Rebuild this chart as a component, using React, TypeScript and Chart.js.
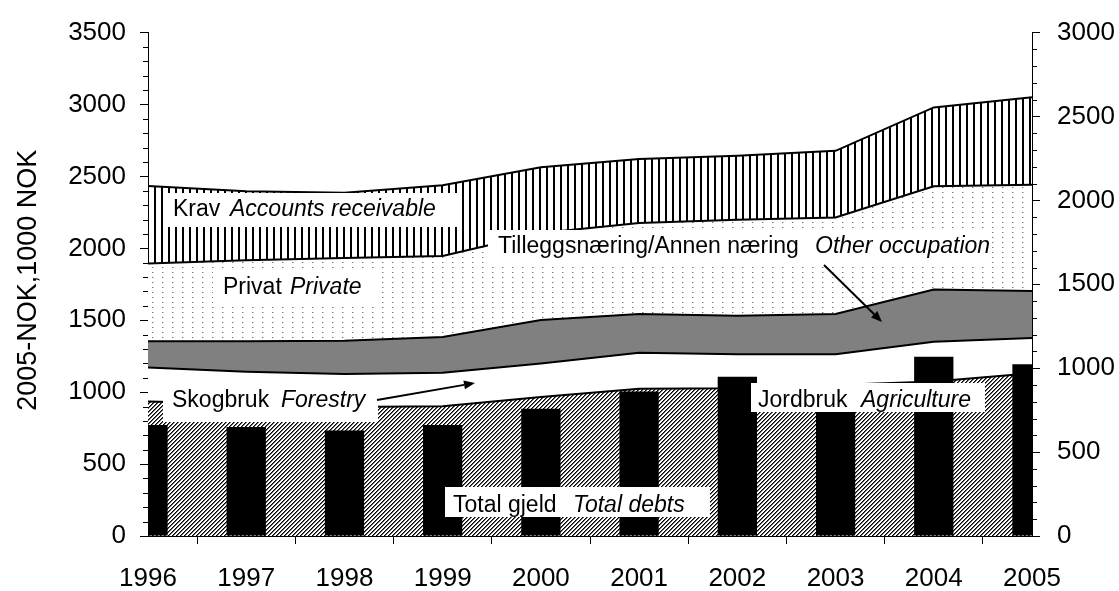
import React, { useEffect, useRef } from 'react';
import { Chart, registerables } from 'chart.js';

Chart.register(...registerables);

// ---- Data ----
const years = ['1996', '1997', '1998', '1999', '2000', '2001', '2002', '2003', '2004', '2005'];
// stacked area components (left axis, 2005-NOK, 1000 NOK)
const agriculture = [936, 920, 897, 902, 966, 1023, 1027, 1050, 1075, 1132];
const forestry = [235, 222, 229, 233, 234, 251, 236, 213, 275, 245];
const otherOccupation = [183, 212, 232, 249, 302, 269, 269, 280, 364, 326];
const privateAssets = [541, 564, 574, 563, 605, 633, 667, 672, 718, 740];
const accountsReceivable = [539, 479, 454, 491, 457, 445, 445, 463, 548, 607];
// bars (right axis)
const totalDebts = [662, 650, 628, 662, 759, 861, 949, 860, 1068, 1023];

const leftTicks = { min: 0, max: 3500, step: 500, minor: 100 };
const rightTicks = { min: 0, max: 3000, step: 500, minor: 100 };

const yTitle = '2005-NOK,1000 NOK';

const FONT = "'Liberation Sans', Arial, sans-serif";

// text annotations (pixel layout)
const annotations = [
  { parts: [{ t: 'Krav', x: 173, italic: false }, { t: 'Accounts receivable', x: 230, italic: true }], base: 216, box: [167, 193, 458, 227] },
  { parts: [{ t: 'Privat', x: 223, italic: false }, { t: 'Private', x: 290, italic: true }], base: 294, box: [213, 272, 378, 303] },
  { parts: [{ t: 'Tilleggsnæring/Annen næring', x: 498, italic: false }, { t: 'Other occupation', x: 815, italic: true }], base: 253, box: [488, 230, 992, 265] },
  { parts: [{ t: 'Skogbruk', x: 172, italic: false }, { t: 'Forestry', x: 281, italic: true }], base: 407, box: [163, 385, 378, 422] },
  { parts: [{ t: 'Jordbruk', x: 758, italic: false }, { t: 'Agriculture', x: 861, italic: true }], base: 407, box: [751, 383, 985, 412] },
  { parts: [{ t: 'Total gjeld', x: 453, italic: false }, { t: 'Total debts', x: 573, italic: true }], base: 512, box: [445, 487, 710, 517] },
];
const arrows = [
  { from: [377, 400], to: [475, 383] },
  { from: [824, 265], to: [882, 322] },
];

function makePattern(ctx: CanvasRenderingContext2D, w: number, h: number, draw: (g: CanvasRenderingContext2D) => void) {
  const c = document.createElement('canvas');
  c.width = w;
  c.height = h;
  const g = c.getContext('2d')!;
  g.fillStyle = '#fff';
  g.fillRect(0, 0, w, h);
  draw(g);
  return ctx.createPattern(c, 'repeat')!;
}

const overlayPlugin = {
  id: 'overlay',
  afterDraw(chart: any) {
    const ctx: CanvasRenderingContext2D = chart.ctx;
    const area = chart.chartArea;
    const y = chart.scales.y;
    const y2 = chart.scales.y2;
    ctx.save();
    // minor ticks
    ctx.strokeStyle = '#000';
    ctx.lineWidth = 1;
    ctx.beginPath();
    for (let v = leftTicks.min; v <= leftTicks.max; v += leftTicks.minor) {
      if (v % leftTicks.step === 0) continue;
      const p = Math.round(y.getPixelForValue(v)) + 0.5;
      ctx.moveTo(area.left - 5, p);
      ctx.lineTo(area.left, p);
    }
    for (let v = rightTicks.min; v <= rightTicks.max; v += rightTicks.minor) {
      if (v % rightTicks.step === 0) continue;
      const p = Math.round(y2.getPixelForValue(v)) + 0.5;
      ctx.moveTo(area.right, p);
      ctx.lineTo(area.right + 5, p);
    }
    ctx.stroke();

    // annotation boxes and text
    for (const a of annotations) {
      const [l, t, r, b] = a.box;
      ctx.fillStyle = '#fff';
      ctx.fillRect(l, t, r - l, b - t);
      ctx.fillStyle = '#000';
      ctx.textBaseline = 'alphabetic';
      ctx.textAlign = 'left';
      for (const p of a.parts) {
        ctx.font = (p.italic ? 'italic ' : '') + '23px ' + FONT;
        ctx.fillText(p.t, p.x, a.base);
      }
    }
    // arrows
    for (const ar of arrows) {
      const [x0, y0] = ar.from;
      const [x1, y1] = ar.to;
      const ang = Math.atan2(y1 - y0, x1 - x0);
      const hl = 11, hw = 4.5;
      const bx = x1 - hl * Math.cos(ang);
      const by = y1 - hl * Math.sin(ang);
      ctx.strokeStyle = '#000';
      ctx.lineWidth = 2;
      ctx.beginPath();
      ctx.moveTo(x0, y0);
      ctx.lineTo(bx, by);
      ctx.stroke();
      ctx.fillStyle = '#000';
      ctx.beginPath();
      ctx.moveTo(x1, y1);
      ctx.lineTo(bx + hw * Math.sin(ang), by - hw * Math.cos(ang));
      ctx.lineTo(bx - hw * Math.sin(ang), by + hw * Math.cos(ang));
      ctx.closePath();
      ctx.fill();
    }
    // y axis title
    ctx.translate(36, (area.top + area.bottom) / 2 - 4);
    ctx.rotate(-Math.PI / 2);
    ctx.font = '27px ' + FONT;
    ctx.fillStyle = '#000';
    ctx.textAlign = 'center';
    ctx.textBaseline = 'alphabetic';
    ctx.fillText(yTitle, 0, 0);
    ctx.restore();
  },
};

export default function App() {
  const ref = useRef<HTMLCanvasElement | null>(null);
  useEffect(() => {
    const canvas = ref.current!;
    const ctx = canvas.getContext('2d')!;
    const hatch = makePattern(ctx, 4, 4, (g) => {
      for (let r = 0; r < 4; r++) {
        g.fillStyle = '#000';
        g.fillRect(3 - r, r, 1, 1);
        g.fillStyle = '#666';
        g.fillRect((4 - r) % 4, r, 1, 1);
      }
    });
    const dots = makePattern(ctx, 10, 5, (g) => {
      g.fillStyle = '#777';
      g.fillRect(2, 2, 1, 1);
      g.fillStyle = '#c4c4c4';
      g.fillRect(3, 2, 1, 1);
    });
    const vlines = makePattern(ctx, 7, 7, (g) => {
      g.fillStyle = '#000';
      g.fillRect(0, 0, 2, 7);
    });
    const areaBase = {
      type: 'line' as const,
      yAxisID: 'y',
      borderColor: '#000',
      borderWidth: 2,
      pointRadius: 0,
      tension: 0,
      order: 1,
    };
    const tickFont = { family: FONT, size: 26 };
    const plain = (v: any) => String(v);
    const chart = new Chart(canvas, {
      type: 'line',
      data: {
        labels: years,
        datasets: [
          { ...areaBase, label: 'Jordbruk', data: agriculture, backgroundColor: hatch, fill: 'origin' },
          { ...areaBase, label: 'Skogbruk', data: forestry, backgroundColor: '#ffffff', fill: '-1' },
          { ...areaBase, label: 'Tilleggsnæring/Annen næring', data: otherOccupation, backgroundColor: '#808080', fill: '-1' },
          { ...areaBase, label: 'Privat', data: privateAssets, backgroundColor: dots, fill: '-1' },
          { ...areaBase, label: 'Krav', data: accountsReceivable, backgroundColor: vlines, fill: '-1' },
          {
            type: 'bar',
            label: 'Total gjeld',
            data: totalDebts,
            yAxisID: 'y2',
            backgroundColor: '#000',
            borderWidth: 0,
            barPercentage: 0.4,
            categoryPercentage: 1,
            clip: 0,
            order: 0,
          } as any,
        ],
      },
      options: {
        responsive: false,
        animation: false,
        layout: { padding: { top: 25, left: 0, right: 0, bottom: 0 } },
        plugins: {
          legend: { display: false },
          tooltip: { enabled: false },
          filler: { drawTime: 'beforeDatasetsDraw' },
        } as any,
        scales: {
          x: {
            type: 'category',
            offset: false,
            grid: { drawOnChartArea: false, drawTicks: true, tickLength: 8, color: '#000', lineWidth: 1 },
            border: { display: true, color: '#000', width: 1 },
            ticks: { color: '#000', font: tickFont, padding: 19, maxRotation: 0, autoSkip: false },
            afterFit: (s: any) => { s.height = 55; },
          },
          y: {
            position: 'left',
            stacked: true,
            min: leftTicks.min,
            max: leftTicks.max,
            grid: { drawOnChartArea: false, drawTicks: true, tickLength: 8, color: '#000', lineWidth: 1 },
            border: { display: true, color: '#000', width: 1 },
            ticks: { stepSize: leftTicks.step, color: '#000', font: tickFont, padding: 14, callback: plain },
            afterFit: (s: any) => { s.width = 148; },
          },
          y2: {
            position: 'right',
            stacked: false,
            min: rightTicks.min,
            max: rightTicks.max,
            grid: { drawOnChartArea: false, drawTicks: true, tickLength: 8, color: '#000', lineWidth: 1 },
            border: { display: true, color: '#000', width: 1 },
            ticks: { stepSize: rightTicks.step, color: '#000', font: tickFont, padding: 17, callback: plain },
            afterFit: (s: any) => { s.width = 87; },
          },
        } as any,
      },
      plugins: [overlayPlugin],
    });
    return () => chart.destroy();
  }, []);
  return (
    <div style={{ position: 'fixed', left: 0, top: 0, width: 1119, height: 591, background: '#fff' }}>
      <canvas ref={ref} width={1119} height={591} style={{ display: 'block' }} />
    </div>
  );
}
